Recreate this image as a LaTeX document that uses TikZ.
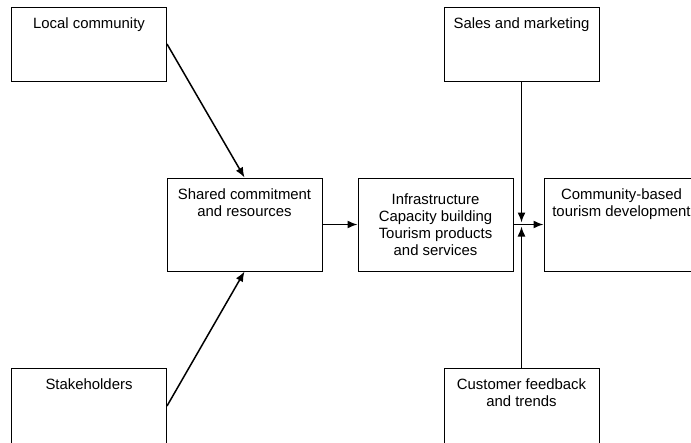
\documentclass[tikz,border=0pt]{standalone}
\usepackage{fontspec}
\setmainfont{Liberation Sans}
\usetikzlibrary{arrows.meta}

\tikzset{
	block/.style={draw, line width=1pt, minimum width=155pt, inner sep=0pt},
	shortblock/.style={block, minimum height=74pt},
	tallblock/.style={block, minimum height=93pt},
	toptext/.style={anchor=north, yshift=-11pt, align=center, inner sep=0pt},
	link/.style={->, line width=1.5pt}
}

\begin{document}
\begin{tikzpicture}[x=1pt, y=-1pt, >={Latex[length=10pt,width=8pt]},
	font=\fontsize{14.9}{17.2}\selectfont]
	\useasboundingbox (0,0) rectangle (691,442);
	\clip (0,0) rectangle (691,442);

	\node [shortblock, label={[toptext]north:Local community}] (local) at (89,44) {};
	\node [shortblock, label={[toptext]north:Sales and marketing}] (sales) at (521.5,44) {};
	\node [tallblock, label={[toptext]north:Shared commitment\\and resources}] (shared) at (244.5,224.5) {};
	\node [tallblock, align=center] (infra) at (435.5,224.5) {Infrastructure\\Capacity building\\Tourism products\\and services};
	\node [tallblock, label={[toptext]north:Community-based\\tourism development}] (cbt) at (621.5,224.5) {};
	\node [shortblock, minimum height=76pt, label={[toptext]north:Stakeholders}] (stake) at (89,406) {};
	\node [shortblock, minimum height=76pt, label={[toptext]north:Customer feedback\\and trends}] (cust) at (521.5,406) {};

	\draw [link] (local.east) -- (shared.north);
	\draw [link] (stake.east) -- (shared.south);
	\draw [link] (shared) -- (infra);
	\draw [link] (infra) -- (cbt);

	\coordinate (meet) at (sales.south |- infra.east);
	\draw [link, shorten >=2pt] (sales) -- (meet);
	\draw [link, shorten >=2pt] (cust) -- (meet);
\end{tikzpicture}
\end{document}
